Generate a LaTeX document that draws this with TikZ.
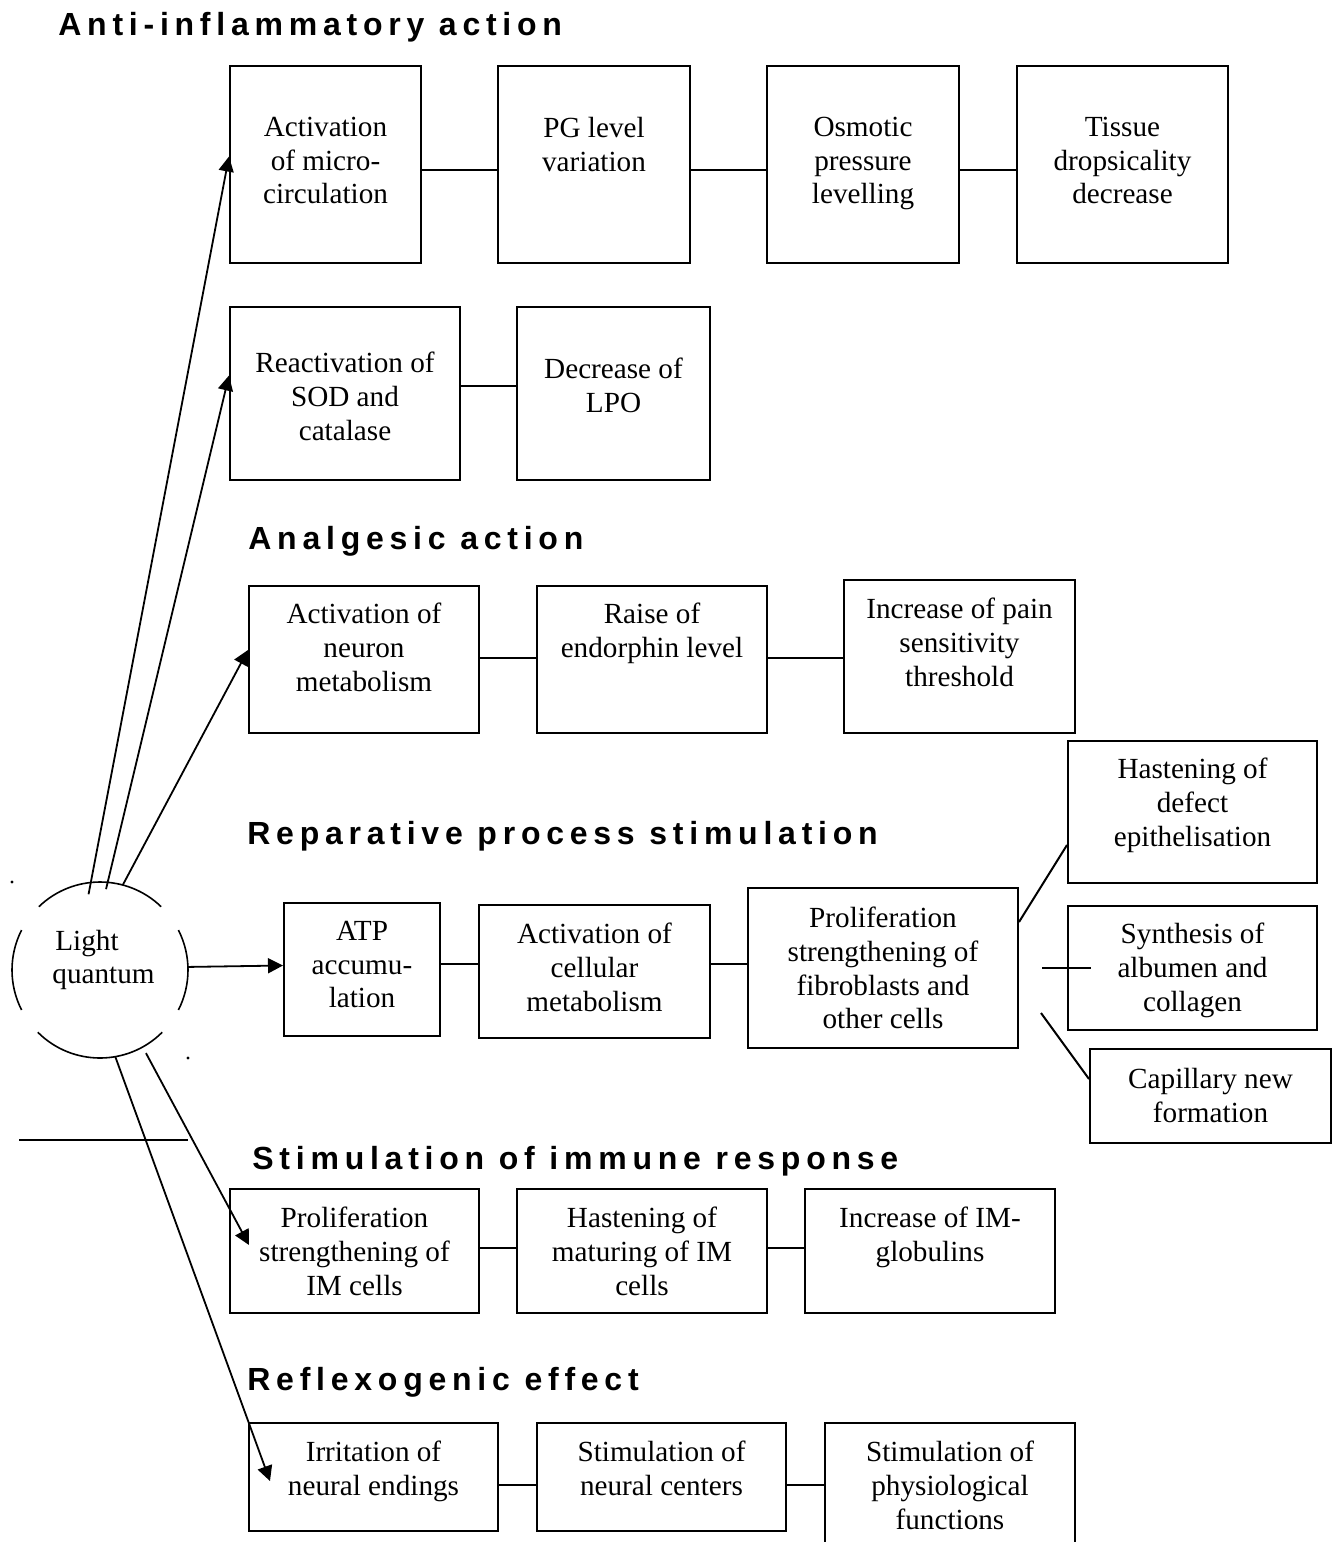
\documentclass[tikz,border=0pt]{standalone}
\usepackage{fontspec}
\setmainfont{Liberation Serif}
\newfontfamily\headfont[LetterSpace=18]{Liberation Sans}
\usetikzlibrary{positioning,arrows.meta}

\begin{document}
\begin{tikzpicture}[x=0.5pt,y=-0.5pt,
	box/.style 2 args={draw,line width=1pt,minimum width=#1*0.5pt,minimum height=#2*0.5pt,inner sep=0pt},
	txt/.style={align=center,inner sep=0pt,font=\fontsize{14.6}{16.8}\selectfont},
	head/.style={anchor=base west,inner sep=0pt,font=\headfont\bfseries\fontsize{16}{19}\selectfont},
	arr/.style={-{Triangle[length=7.5pt,width=7.5pt]},line width=0.9pt},
	link/.style={line width=1pt}]
		\clip (0,0) rectangle (1343,1542);
		
		% headings
		\node[head] (h1) at (58,35) {Anti-inflammatory action};
		\node[head] (h2) at (248,549) {Analgesic action};
		\node[head] (h3) at (247,844) {Reparative process stimulation};
		\node[head] (h4) at (252,1169) {Stimulation of immune response};
		\node[head] (h5) at (247,1390) {Reflexogenic effect};
		
		% light quantum
		\node[circle,minimum size=88pt,inner sep=0pt,outer sep=0pt] (lq) at (100,970) {};
		\foreach \s/\e in {-27/27,46/134,153/207,225/315}
		\draw[line width=0.8pt] (lq.\s) arc[start angle=\s,end angle=\e,radius=44pt];
		\node[txt,align=left] (lqt) at (103.5,960) {\hspace{1.5pt}Light\\quantum};
		
		% anti-inflammatory
		\node[box={191}{197}] (a1) at (325.5,164.5) {};
		\node[box={192}{197}] (a2) at (594,164.5) {};
		\node[box={192}{197}] (a3) at (863,164.5) {};
		\node[box={211}{197}] (a4) at (1122.5,164.5) {};
		\node[txt,below=26pt of a1.north] {Activation\\of micro-\\circulation};
		\node[txt,below=26pt of a2.north] {PG level\\variation};
		\node[txt,below=26pt of a3.north] {Osmotic\\pressure\\levelling};
		\node[txt,below=26pt of a4.north] {Tissue\\dropsicality\\decrease};
		
		\node[box={230}{173}] (b1) at (345,393.5) {};
		\node[box={193}{173}] (b2) at (613.5,393.5) {};
		\node[txt,below=23pt of b1.north] {Reactivation of\\SOD and\\catalase};
		\node[txt,below=26pt of b2.north] {Decrease of\\LPO};
		
		% analgesic
		\node[box={230}{147}] (c1) at (364,659.5) {};
		\node[box={230}{147}] (c2) at (652,659.5) {};
		\node[box={231}{153}] (c3) at (959.5,656.5) {};
		\node[txt,below=9pt of c1.north] {Activation of\\neuron\\metabolism};
		\node[txt,below=9pt of c2.north] {Raise of\\endorphin level};
		\node[txt,below=9.5pt of c3.north] {Increase of pain\\sensitivity\\threshold};
		
		% reparative
		\node[box={156}{133}] (d1) at (362,969.5) {};
		\node[box={231}{133}] (d2) at (594.5,971.5) {};
		\node[box={270}{160}] (d3) at (883,968) {};
		\node[box={249}{142}] (d4) at (1192.5,812) {};
		\node[box={249}{124}] (d5) at (1192.5,968) {};
		\node[box={241}{94}] (d6) at (1210.5,1096) {};
		\node[txt,below=9.5pt of d1.north] {ATP\\accumu-\\lation};
		\node[txt,below=9.5pt of d2.north] {Activation of\\cellular\\metabolism};
		\node[txt,below=10pt of d3.north] {Proliferation\\strengthening of\\fibroblasts and\\other cells};
		\node[txt,below=9pt of d4.north] {Hastening of\\defect\\epithelisation};
		\node[txt,below=9pt of d5.north] {Synthesis of\\albumen and\\collagen};
		\node[txt,below=10pt of d6.north] {Capillary new\\formation};
		\coordinate (d5end) at (1042,968);
		\coordinate (d6end) at (1041,1013);
		
		% immune response
		\node[box={249}{124}] (e1) at (354.5,1251) {};
		\node[box={250}{124}] (e2) at (642,1251) {};
		\node[box={250}{124}] (e3) at (930,1251) {};
		\node[txt,below=9.5pt of e1.north] {Proliferation\\strengthening of\\IM cells};
		\node[txt,below=9.5pt of e2.north] {Hastening of\\maturing of IM\\cells};
		\node[txt,below=9.5pt of e3.north] {Increase of IM-\\globulins};
		
		% reflexogenic
		\node[box={249}{108}] (f1) at (373.5,1477) {};
		\node[box={249}{108}] (f2) at (661.5,1477) {};
		\node[box={250}{140}] (f3) at (950,1493) {};
		\node[txt,below=9.5pt of f1.north] {Irritation of\\neural endings};
		\node[txt,below=9.5pt of f2.north] {Stimulation of\\neural centers};
		\node[txt,below=9.5pt of f3.north] {Stimulation of\\physiological\\functions};
		
		% arrows from the light quantum
		\draw[arr,shorten <=-6pt] (lq.96) -- ([yshift=4pt]a1.west);
		\draw[arr,shorten <=-3.5pt] (lq.85) -- ([yshift=9pt]b1.west);
		\draw[arr] (lq.75) -- ([yshift=4.75pt]c1.west);
		\draw[arr] (lq.2) -- ([yshift=2pt]d1.west);
		\draw[arr,shorten <=3.5pt] (lq.-61) -- ([xshift=10pt,yshift=3pt]e1.west);
		\draw[arr] (lq.-80) -- ([xshift=11pt,yshift=-2pt]f1.west);
		
		% links
		\foreach \p/\q in {a1/a2,a2/a3,a3/a4}
		\draw[link] ([yshift=-2.75pt]\p.east) -- ([yshift=-2.75pt]\q.west);
		\draw[link] ([yshift=4pt]b1.east) -- ([yshift=4pt]b2.west);
		\draw[link] ([yshift=.75pt]c1.east) -- ([yshift=.75pt]c1.east -| c2.west);
		\draw[link] ([yshift=.75pt]c2.east) -- ([yshift=.75pt]c2.east -| c3.west);
		\draw[link] ([yshift=2.75pt]d1.east) -- ([yshift=2.75pt]d1.east -| d2.west);
		\draw[link] ([yshift=3.75pt]d2.east) -- ([yshift=3.75pt]d2.east -| d3.west);
		\draw[link] ([yshift=23pt]d3.east) -- ([yshift=-16.5pt]d4.west);
		\draw[link] (d5end) -- ([xshift=12pt]d5.west);
		\draw[link] (d6end) -- ([yshift=8.5pt]d6.west);
		\foreach \p/\q in {e1/e2,e2/e3}
		\draw[link] ([yshift=1.5pt]\p.east) -- ([yshift=1.5pt]\q.west);
		\draw[link] ([yshift=-4pt]f1.east) -- ([yshift=-4pt]f1.east -| f2.west);
		\draw[link] ([yshift=-4pt]f2.east) -- ([yshift=-4pt]f2.east -| f3.west);
		
		% stray marks
		\fill (12,882) circle[radius=0.8pt];
		\fill (188,1058) circle[radius=0.8pt];
		\draw[line width=0.8pt] (19,1140) -- (188,1140);
		
	\end{tikzpicture}
\end{document}
